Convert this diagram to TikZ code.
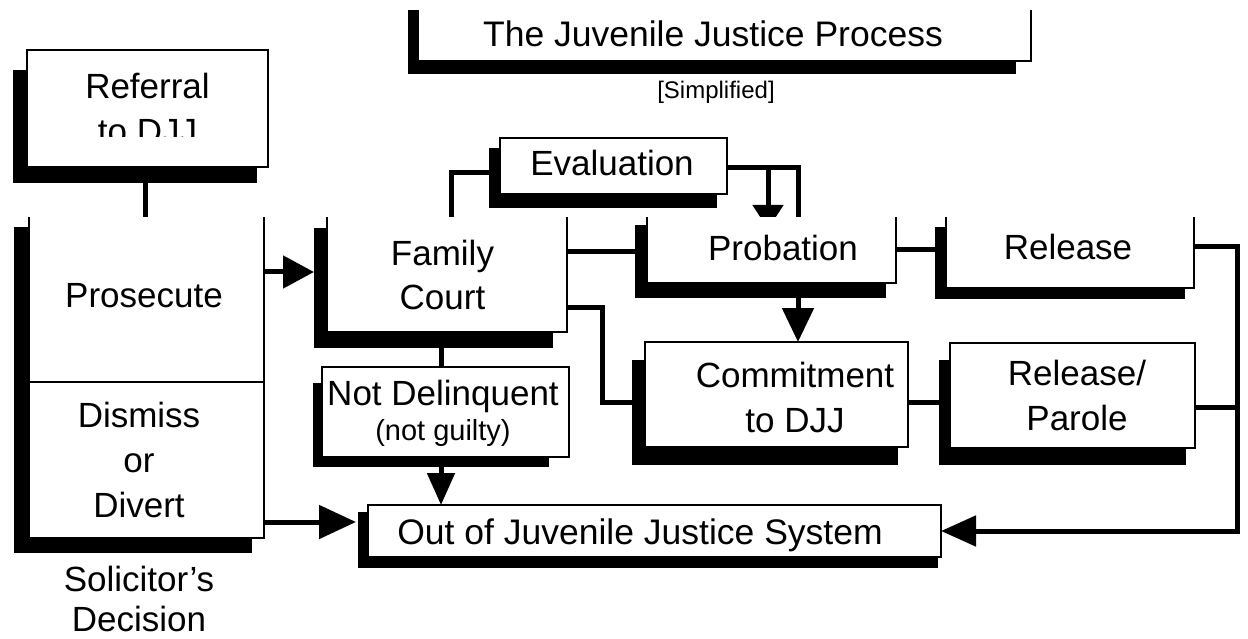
\documentclass[tikz,border=0pt]{standalone}
\usepackage{fontspec}
\setmainfont{Liberation Sans}
\usetikzlibrary{arrows.meta,calc}
\pgfdeclarelayer{bg}\pgfdeclarelayer{conns}\pgfdeclarelayer{shadows}
\pgfsetlayers{bg,conns,shadows,main}
% text shifted by dx (right) and raised by dy
\newcommand\tx[3]{\raisebox{#2pt}[\height][\depth]{\makebox[0pt]{\hspace*{#1pt}\hspace*{#1pt}\begin{tabular}{@{}c@{}}#3\end{tabular}}}}
\newcommand\opentop[1]{\draw[boxline] (#1.north west) -- (#1.south west) -- (#1.south east) -- (#1.north east);}
\newcommand\shd[5]{\begin{pgfonlayer}{shadows}\fill[black] ($(#1.north west)+(#2,#3)$) rectangle ($(#1.south east)+(#4,#5)$);\end{pgfonlayer}}
\tikzset{
  boxline/.style={line width=2.8pt, line join=miter},
  box/.style={draw=black, boxline, fill=white, inner sep=0pt, outer sep=0pt,
    anchor=north west, align=center, font=\fontsize{35}{45}\selectfont},
  openbox/.style={box, draw=none},
  conn/.style={line width=5pt},
  arr/.style 2 args={conn, -{Triangle[length=#1pt,width=#2pt]}},
  plain/.style={inner sep=0pt, outer sep=0pt, align=center},
}
\begin{document}
\begin{tikzpicture}[x=1pt,y=-1pt]
\useasboundingbox (0,0) rectangle (1248,639);
\begin{pgfonlayer}{bg}\fill[white] (0,0) rectangle (1248,639);\end{pgfonlayer}

% title
\node[openbox, minimum width=613pt, minimum height=51pt, font=\fontsize{35.5}{45}\selectfont] (title) at (418,10) {\tx{-11.5}{-2.5}{The Juvenile Justice Process}};
\opentop{title}
\shd{title}{-10}{0}{-15}{13}
\node[plain, font=\fontsize{24}{28}\selectfont] (simp) at (716,92) {[Simplified]};

% referral
\node[box, minimum width=241pt, minimum height=117pt] (ref) at (27,50) {};
\shd{ref}{-14}{20}{-11}{16}
\begin{scope}
  \clip (ref.north west) rectangle ($(ref.east)+(0,28.5)$);
  \node[plain, font=\fontsize{35}{45}\selectfont] (reftxt) at (ref.center) {Referral\\to DJJ};
\end{scope}

% solicitor's decision
\node[openbox, minimum width=235pt, minimum height=165pt] (pros) at (29,217) {\tx{-2.5}{1.5}{Prosecute}};
\opentop{pros}
\node[box, minimum width=235pt, minimum height=156pt] (dis) at (29,382) {\tx{-7.5}{-3.5}{Dismiss\\or\\Divert}};
\begin{pgfonlayer}{shadows}\fill[black] ($(pros.north west)+(-15,10)$) rectangle ($(dis.south east)+(-12,15)$);\end{pgfonlayer}
\node[plain, font=\fontsize{35}{40}\selectfont] (sol) at (139,599) {Solicitor’s\\Decision};

% family court
\node[openbox, minimum width=240pt, minimum height=115pt] (fc) at (327,217) {\tx{-4.5}{-4}{Family\\Court}};
\opentop{fc}
\shd{fc}{-13}{11}{-14}{16}

% evaluation
\node[box, minimum width=227pt, minimum height=56pt] (eval) at (500,138) {\tx{-1.5}{-1}{Evaluation}};
\shd{eval}{-11}{10}{-10}{14}

% probation
\node[openbox, minimum width=249pt, minimum height=66pt] (prob) at (647,217) {\tx{11.5}{-1.8}{Probation}};
\opentop{prob}
\shd{prob}{-12}{8}{-10}{15}

% release
\node[openbox, minimum width=248pt, minimum height=71pt] (rel) at (946,217) {\tx{-2}{1.5}{Release}};
\opentop{rel}
\shd{rel}{-11}{10}{-9}{11}

% commitment
\node[box, minimum width=263pt, minimum height=105pt] (com) at (645,342) {\tx{18.5}{-6}{Commitment\\to DJJ}};
\shd{com}{-13}{18}{-10}{18}

% release / parole
\node[box, minimum width=245pt, minimum height=105pt] (rp) at (950,343) {\tx{4.5}{-3.8}{Release/\\Parole}};
\shd{rp}{-11}{17}{-9}{17}

% not delinquent
\node[box, minimum width=247pt, minimum height=90pt] (nd) at (322,367) {\tx{-2.5}{-1.5}{Not Delinquent\\[-10pt]{\fontsize{29}{32}\selectfont(not guilty)}}};
\shd{nd}{-9}{16}{-20}{10}

% out of system
\node[box, minimum width=573pt, minimum height=52pt, font=\fontsize{35.5}{45}\selectfont] (out) at (368,505) {\tx{-14.5}{-4.2}{Out of Juvenile Justice System}};
\shd{out}{-10}{7}{-3}{11}

\coordinate (bus) at (1237,0);

% connectors
\begin{pgfonlayer}{conns}
\draw[conn] (ref.south -| 145,0) -- (pros.north -| 145,0);
\draw[arr={31}{32}, shorten >=13pt] (pros.east |- 0,272) -- (fc.west |- 0,272);
\draw[arr={37}{33}, shorten >=12pt] (dis.east |- 0,522) -- (out.west |- 0,522);
\draw[conn] (fc.north -| 451,0) |- ($(eval.west)+(0,7)$);
\draw[conn] ($(eval.east)+(0,2)$) -| (prob.north -| 798,0);
\draw[arr={24}{30}] ($(eval.east -| 768,0)+(0,2)$) -- ($(prob.north -| 768,0)+(0,12)$);
\draw[conn] (fc.east |- 0,252) -- (prob.west |- 0,252);
\draw[conn] (fc.east |- 0,307) -- ++(35,0) |- (com.west |- 0,402);
\draw[arr={34}{31}] (prob.south -| 798,0) -- (com.north -| 798,0);
\draw[conn] (prob.east |- 0,250) -- (rel.west |- 0,250);
\draw[conn] (com.east |- 0,402) -- (rp.west |- 0,402);
\draw[conn] (fc.south -| 441,0) -- (nd.north -| 441,0);
\draw[arr={32}{27}] (nd.south -| 441,0) -- (out.north -| 441,0);
\draw[arr={35}{30}] (rel.east |- 0,247) -| (bus |- out.east) -- (out.east);
\draw[conn] (rp.east |- 0,407) -- (bus |- 0,407);
\end{pgfonlayer}
\end{tikzpicture}
\end{document}
